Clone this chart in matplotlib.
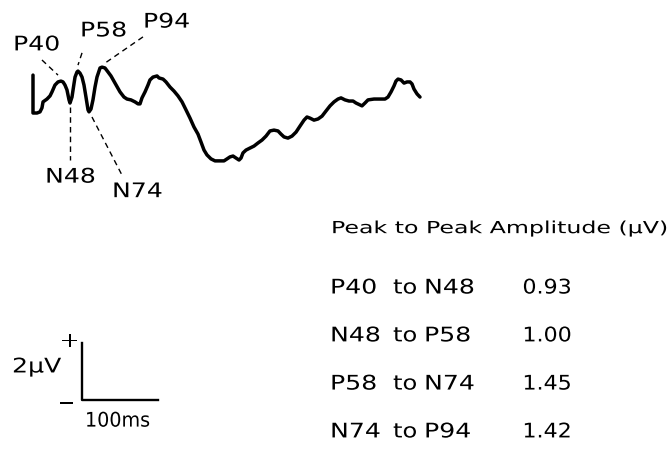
import matplotlib
matplotlib.use("Agg")
import matplotlib.pyplot as plt
from matplotlib import patheffects
from matplotlib.transforms import Affine2D

# evoked potential trace, time in ms, amplitude in uV (positive up)
time_ms = [0, 0, 5.3, 9.2, 11.8, 13.2, 18.4, 22.4, 25.0, 28.9, 32.9, 36.8, 39.5, 42.1,
           44.7, 47.4, 48.7, 51.3, 53.9, 55.3, 57.9, 59.2, 61.8, 64.5, 67.1, 69.7, 72.4,
           73.7, 76.3, 78.9, 81.6, 84.2, 88.2, 90.8, 94.7, 98.7, 102.6, 107.9, 114.5,
           119.7, 123.7, 128.9, 134.2, 138.2, 140.8, 143.4, 147.4, 151.3, 153.9, 157.9,
           163.2, 165.8, 171.1, 175.0, 180.3, 185.5, 190.8, 196.1, 201.3, 206.6, 211.8,
           217.1, 221.1, 225.0, 228.9, 234.2, 239.5, 246.1, 251.3, 255.3, 259.2, 263.2,
           267.1, 271.1, 273.7, 276.3, 280.3, 285.5, 290.8, 296.1, 301.3, 306.6, 311.8,
           317.1, 322.4, 326.3, 330.3, 335.5, 340.8, 346.1, 351.3, 356.6, 360.5, 364.5,
           369.7, 375.0, 380.3, 385.5, 390.8, 396.1, 401.3, 405.3, 410.5, 415.8, 421.1,
           425.0, 432.9, 436.8, 440.8, 448.7, 456.6, 463.2, 467.1, 471.1, 475.0, 477.6,
           480.3, 484.2, 488.2, 492.1, 496.1, 498.7, 501.3, 505.3, 509.2]
amp_uv = [1.33, 0, 0, 0.04, 0.18, 0.39, 0.49, 0.60, 0.74, 0.98, 1.09, 1.12, 1.09, 0.98,
          0.81, 0.46, 0.35, 0.56, 1.02, 1.26, 1.44, 1.47, 1.40, 1.26, 0.98, 0.56, 0.11,
          0.04, 0.14, 0.46, 0.91, 1.26, 1.58, 1.61, 1.58, 1.44, 1.30, 1.05, 0.74,
          0.56, 0.49, 0.46, 0.39, 0.32, 0.32, 0.53, 0.74, 0.98, 1.16, 1.26,
          1.30, 1.23, 1.19, 1.09, 0.91, 0.77, 0.60, 0.39, 0.11, -0.18, -0.49,
          -0.74, -1.02, -1.30, -1.47, -1.61, -1.68, -1.68, -1.68, -1.61, -1.54, -1.51,
          -1.58, -1.65, -1.58, -1.40, -1.30, -1.23, -1.16, -1.05, -0.95, -0.81, -0.63,
          -0.60, -0.63, -0.74, -0.84, -0.88, -0.81, -0.67, -0.46, -0.25, -0.14, -0.18,
          -0.25, -0.21, -0.11, 0.07, 0.25, 0.39, 0.49, 0.53, 0.46, 0.42, 0.42,
          0.35, 0.25, 0.35, 0.46, 0.49, 0.49, 0.49, 0.56, 0.74, 0.95, 1.12,
          1.19, 1.16, 1.05, 1.09, 1.09, 1.02, 0.84, 0.67, 0.56]

peak_names = ["P40", "N48", "P58", "N74", "P94"]
pairs = [("P40", "N48"), ("N48", "P58"), ("P58", "N74"), ("N74", "P94")]
p2p_uv = ["0.93", "1.00", "1.45", "1.42"]

scale_ms = 100
scale_uv = 2


class Stretch(patheffects.AbstractPathEffect):
    # widen glyphs horizontally, the original lettering is very wide
    def __init__(self, sx):
        super().__init__()
        self.sx = sx

    def draw_path(self, renderer, gc, tpath, affine, rgbFace=None):
        renderer.draw_path(gc, tpath, Affine2D().scale(self.sx, 1) + affine, rgbFace)


def label(x, y, s, size=14.5, sx=1.25):
    ax.text(x, y, s, fontsize=size, ha="left", va="center", color="black",
            family="DejaVu Sans", path_effects=[Stretch(sx)])


fig = plt.figure(figsize=(6.69, 4.61), dpi=100)
ax = fig.add_axes([0, 0, 1, 1])
ax.set_xlim(-43.42, 836.84)
ax.set_ylim(-12.21, 3.965)
ax.axis("off")

ax.plot(time_ms, amp_uv, color="black", lw=2.5, solid_joinstyle="round", solid_capstyle="round")

# peak labels with dashed leaders
leaders = {
    "P40": ((11.8, 1.86), (32.9, 1.33), (-26.3, 2.39)),
    "P58": ((64.5, 2.11), (59.2, 1.68), (61.8, 2.88)),
    "P94": ((144.7, 2.67), (94.7, 1.75), (144.7, 3.19)),
    "N48": ((48.7, 0.21), (48.7, -1.65), (15.8, -2.25)),
    "N74": ((77.6, -0.14), (117.1, -2.18), (103.9, -2.76)),
}
for name in peak_names:
    a, b, t = leaders[name]
    ax.plot([a[0], b[0]], [a[1], b[1]], color="black", lw=1.0, ls=(0, (4, 3)))
    label(t[0], t[1], name)

# calibration bars
ax.plot([64.5, 64.5, 64.5 + scale_ms], [-10.07 + scale_uv, -10.07, -10.07], color="black", lw=1.7)
label(35.5, -8.0, "+", size=15, sx=1.1)
label(32.0, -10.2, "\u2212", size=15, sx=1.0)
label(-27.6, -8.91, "2\u00b5V", size=14.5, sx=1.25)
label(68.4, -10.81, f"{scale_ms}ms", size=14.5, sx=0.95)

# peak to peak table
label(392.1, -4.04, "Peak to Peak Amplitude (\u00b5V)", size=12, sx=1.42)
row_y = [-6.14, -7.82, -9.51, -11.19]
for (p1, p2), val, y in zip(pairs, p2p_uv, row_y):
    label(390.8, y, p1)
    label(473.7, y, "to", sx=1.2)
    label(514.5, y, p2)
    label(644.0, y, val, sx=1.1)

fig.savefig("out.png", dpi=100)
